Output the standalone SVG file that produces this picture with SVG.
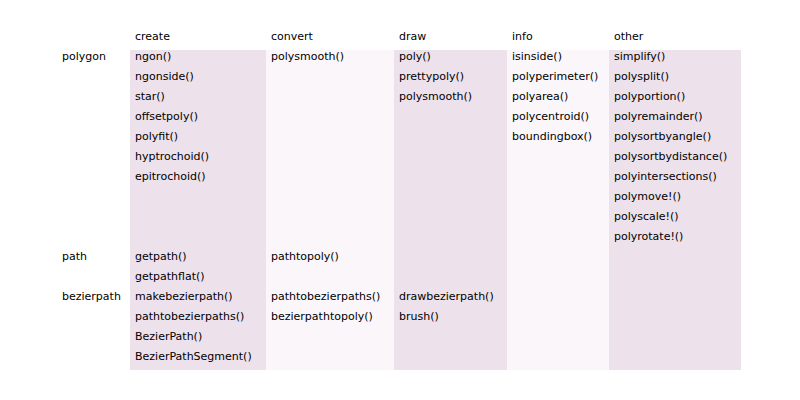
<svg xmlns="http://www.w3.org/2000/svg" width="800" height="400" viewBox="0 0 800 400">
<style>
text{font-family:"DejaVu Sans",sans-serif;font-size:11px;fill:#000}
.d{fill:#ede1eb}.l{fill:#faf6f9}
</style>
<rect width="800" height="400" fill="#fff"/>
<g id="bands">
<rect class="d" x="130" y="50" width="136" height="320"/>
<rect class="l" x="266" y="50" width="128" height="320"/>
<rect class="d" x="394" y="50" width="113" height="320"/>
<rect class="l" x="507" y="50" width="102" height="320"/>
<rect class="d" x="609" y="50" width="132" height="320"/>
</g>
<g id="headers">
<text x="135" y="40">create</text><text x="271" y="40">convert</text><text x="399" y="40">draw</text><text x="512" y="40">info</text><text x="614" y="40">other</text>
</g>
<g id="rows">
<text x="62" y="60">polygon</text><text x="62" y="260">path</text><text x="62" y="300">bezierpath</text>
</g>
<g id="create">
<text x="135" y="60">ngon()</text><text x="135" y="80">ngonside()</text><text x="135" y="100">star()</text><text x="135" y="120">offsetpoly()</text><text x="135" y="140">polyfit()</text><text x="135" y="160">hyptrochoid()</text><text x="135" y="180">epitrochoid()</text>
<text x="135" y="260">getpath()</text><text x="135" y="280">getpathflat()</text><text x="135" y="300">makebezierpath()</text><text x="135" y="320">pathtobezierpaths()</text><text x="135" y="340">BezierPath()</text><text x="135" y="360">BezierPathSegment()</text>
</g>
<g id="convert">
<text x="271" y="60">polysmooth()</text><text x="271" y="260">pathtopoly()</text><text x="271" y="300">pathtobezierpaths()</text><text x="271" y="320">bezierpathtopoly()</text>
</g>
<g id="draw">
<text x="399" y="60">poly()</text><text x="399" y="80">prettypoly()</text><text x="399" y="100">polysmooth()</text><text x="399" y="300">drawbezierpath()</text><text x="399" y="320">brush()</text>
</g>
<g id="info">
<text x="512" y="60">isinside()</text><text x="512" y="80">polyperimeter()</text><text x="512" y="100">polyarea()</text><text x="512" y="120">polycentroid()</text><text x="512" y="140">boundingbox()</text>
</g>
<g id="other">
<text x="614" y="60">simplify()</text><text x="614" y="80">polysplit()</text><text x="614" y="100">polyportion()</text><text x="614" y="120">polyremainder()</text><text x="614" y="140">polysortbyangle()</text><text x="614" y="160">polysortbydistance()</text><text x="614" y="180">polyintersections()</text><text x="614" y="200">polymove!()</text><text x="614" y="220">polyscale!()</text><text x="614" y="240">polyrotate!()</text>
</g>
<g id="connectors"/>
</svg>
